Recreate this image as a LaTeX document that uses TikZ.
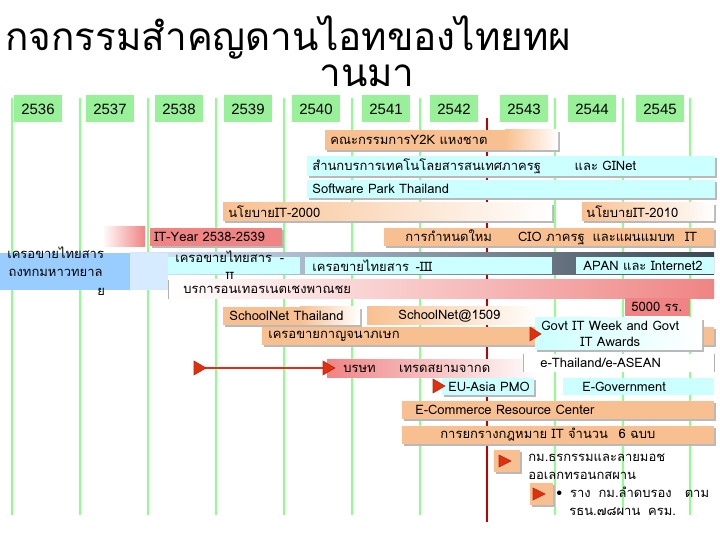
\documentclass[tikz,border=0pt]{standalone}
\usepackage{fontspec}
\setmainfont{Liberation Sans}
\newfontfamily\thf[Script=Thai]{Loma}
\definecolor{orng}{HTML}{F8C090}
\definecolor{cyn}{HTML}{CCFFFF}
\definecolor{pnk}{HTML}{F08484}
\definecolor{blu}{HTML}{99CCFF}
\definecolor{grn}{HTML}{98F098}
\definecolor{dgray}{HTML}{3C4650}
\definecolor{tri}{HTML}{E03010}
\begin{document}
\begin{tikzpicture}[x=0.02cm,y=-0.02cm,
  lbl/.style={anchor=west,inner sep=0,font=\thf\fontsize{7.4pt}{10.5pt}\selectfont},
  yr/.style={fill=grn,minimum width=0.96cm,minimum height=0.54cm,inner sep=0,font=\fontsize{8.5pt}{10pt}\selectfont},
  sh/.style={fill=gray!55},
  trg/.style={fill=tri,draw=tri!80!black,line width=0.3pt}]
\useasboundingbox (0,0) rectangle (720,540);
\fill[white] (0,0) rectangle (720,540);
% grid
\foreach \x in {12,80,148,216,284,352,420,555,623,690}
  \draw[green!45!white,line width=0.6pt] (\x,98) -- (\x,515);
\draw[red!75!black,line width=0.6pt] (487,118) -- (487,522);
% title
\node[inner sep=0,anchor=west,font=\thf\fontsize{22pt}{24pt}\selectfont] (title) at (5,38) {กจกรรมสำคญดานไอทของไทยทผ};
\node[inner sep=0,font=\thf\fontsize{22pt}{24pt}\selectfont] (title2) at (367,76) {านมา};
% years
\foreach \x/\y in {38/2536,110/2537,179/2538,248/2539,316/2540,386/2541,454/2542,524/2543,592/2544,660/2545}
  \node[yr] (y\y) at (\x,109) {\y};
% Y2K
\fill[sh] (327,132) rectangle (560,152);
\fill[orng] (325,130) rectangle (505,150);
\shade[left color=orng,right color=white] (505,130) rectangle (558,150);
\node[lbl] (y2k) at (330,140) {คณะกรรมการY2K แหงชาต};
% GINet
\fill[sh] (309,158) rectangle (717,178);
\fill[cyn] (307,156) rectangle (715,176);
\node[lbl] (gin) at (312,166) {สำนกบรการเทคโนโลยสารสนเทศภาครฐ\hspace{2.6em}และ GINet};
\fill[sh] (309,182) rectangle (717,200);
\fill[cyn] (307,180) rectangle (715,198);
\node[lbl] (swp) at (312,189) {Software Park Thailand};
% IT-2000
\fill[sh] (225,205) rectangle (554,223);
\shade[left color=orng,right color=white] (223,203) rectangle (552,221);
\node[lbl] (it2000) at (228,212) {นโยบายIT-2000};
\fill[sh] (584,205) rectangle (716,223);
\shade[left color=orng,middle color=orng,right color=white] (582,203) rectangle (714,221);
\node[lbl] (it2010) at (586,212) {นโยบายIT-2010};
% IT-Year
\shade[left color=white,right color=pnk] (102,227) rectangle (145,247);
\fill[sh] (152,230) rectangle (284,248);
\fill[pnk] (150,228) rectangle (282,246);
\node[lbl] (ityear) at (154,237) {IT-Year 2538-2539};
\fill[sh] (386,230) rectangle (716,248);
\fill[orng] (384,228) rectangle (714,246);
\node[lbl] (cio) at (405,237) {การกำหนดใหม\hspace{2em}CIO ภาครฐ\hspace{0.6em}และแผนแมบท\hspace{0.8em}IT};
% ThaiSarn band
\shade[left color=blu!40,right color=dgray] (130,253) rectangle (714,275);
\fill[blu] (0,253) rectangle (130,290);
\fill[blu!40] (130,253) rectangle (168,290);
\node[lbl,align=center] (ts1) at (6,271) {เครอขายไทยสาร\\ถงทกมหาวทยาล\\\hspace*{7em}ย};
\fill[cyn] (168,257) rectangle (300,274);
\node[lbl,align=center] (ts2) at (175,266) {เครอขายไทยสาร\hspace{0.6em}-\\II};
\fill[cyn] (305,257) rectangle (552,274);
\node[lbl] (ts3) at (312,266) {เครอขายไทยสาร\hspace{0.5em}-III};
\fill[cyn] (576,257) rectangle (714,274);
\node[lbl] (apan) at (583,266) {APAN และ Internet2};
% commercial internet
\shade[left color=white,right color=pnk] (168,280) rectangle (714,299);
\draw[gray!60] (168,280) -- (168,299);
\node[lbl] (isp) at (183,290) {บรการอนเทอรเนตเชงพาณชย};
\fill[pnk] (625,298) rectangle (690,316);
\node[lbl] (s5000) at (631,307) {5000 รร.};
% SchoolNet
\fill[sh] (225,309) rectangle (362,327);
\fill[white] (223,307) rectangle (360,325);
\fill[orng] (223,307) rectangle (300,325);
\shade[left color=orng,right color=white] (300,307) rectangle (360,325);
\node[lbl] (sn) at (229,316) {SchoolNet Thailand};
\shade[left color=orng,right color=white] (367,307) rectangle (540,325);
\node[lbl] (sn1509) at (398,316) {SchoolNet@1509};
% Kanchanapisek
\fill[sh] (264,329) rectangle (716,347);
\fill[orng] (262,327) rectangle (714,345);
\node[lbl] (kan) at (268,336) {เครอขายกาญจนาภเษก};
% Govt IT week
\fill[sh] (537,320) rectangle (704,352);
\shade[left color=cyn,right color=white] (535,318) rectangle (702,350);
\node[lbl,align=center,font=\thf\fontsize{7.4pt}{9pt}\selectfont] (govt) at (541,334) {Govt IT Week and Govt\\IT Awards};
\fill[trg] (530,327) -- (541,334) -- (530,341) -- cycle;
% Trade Siam
\coordinate (ta) at (200,368);
\draw[tri,line width=0.6pt] (ta) -- (330,368);
\fill[trg] (194,361) -- (206,368) -- (194,375) -- cycle;
\shade[left color=pnk,right color=white] (327,360) rectangle (540,378);
\fill[trg] (323,361) -- (335,368) -- (323,375) -- cycle;
\node[lbl] (trade) at (343,369) {บรษท\hspace{1.8em}เทรดสยามจากด};
\fill[white] (523,354) rectangle (714,372);
\draw[gray!60] (523,354) -- (523,372) (714,354)--(714,372);
\node[lbl] (eth) at (540,363) {e-Thailand/e-ASEAN};
% EU-Asia
\fill[sh] (444,380) rectangle (536,397);
\fill[cyn] (442,378) rectangle (534,395);
\fill[trg] (433,379) -- (445,386) -- (433,393) -- cycle;
\node[lbl] (eu) at (448,387) {EU-Asia PMO};
\fill[cyn] (563,378) rectangle (714,395);
\node[lbl] (egov) at (582,387) {E-Government};
% E-Commerce
\fill[sh] (404,403) rectangle (716,421);
\fill[orng] (402,401) rectangle (714,419);
\node[lbl] (ecom) at (415,410) {E-Commerce Resource Center};
\fill[sh] (404,428) rectangle (716,446);
\fill[orng] (402,426) rectangle (714,444);
\node[lbl] (law) at (440,435) {การยกรางกฎหมาย IT จำนวน\hspace{0.8em}6 ฉบบ};
% law items
\fill[sh] (496,452) rectangle (522,474);
\fill[orng] (494,450) rectangle (520,472);
\fill[trg] (499,455) -- (511,461) -- (499,467) -- cycle;
\node[lbl,align=left] (law1) at (528,467) {กม.ธรกรรมและลายมอช\\ออเลกทรอนกสผาน};
\fill[sh] (532,485) rectangle (555,507);
\fill[orng] (530,483) rectangle (553,505);
\fill[trg] (533,488) -- (545,494) -- (533,500) -- cycle;
\node[lbl,align=left] (law2) at (556,501) {•\hspace{0.6em}ราง\hspace{0.6em}กม.ลำดบรอง\hspace{1em}ตาม\\\hspace{1em}รธน.๗๘ผาน\hspace{0.6em}ครม.};
\end{tikzpicture}
\end{document}
